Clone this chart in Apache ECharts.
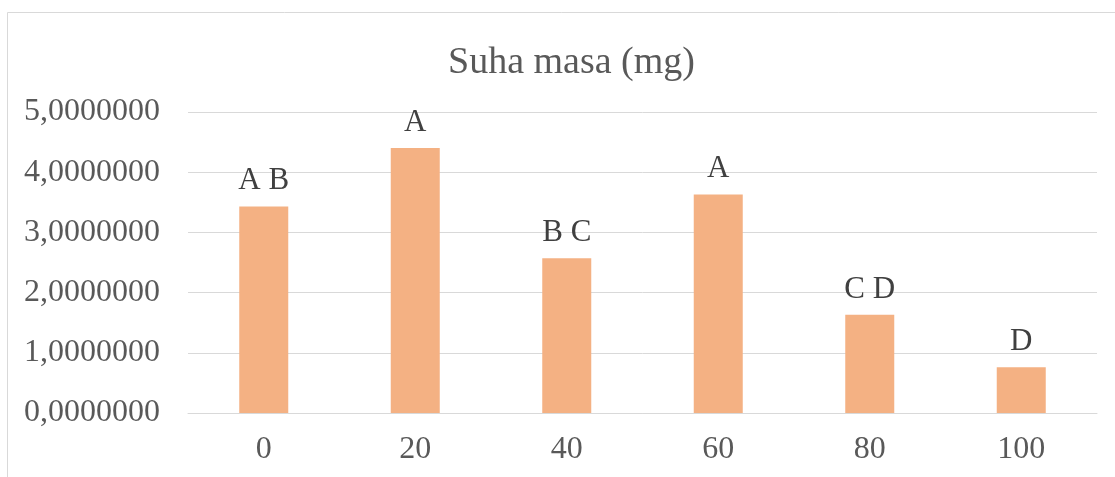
<!DOCTYPE html>
<html>
<head>
<meta charset="utf-8">
<script src="https://cdn.jsdelivr.net/npm/echarts@6/dist/echarts.min.js"></script>
<style>html,body{margin:0;padding:0;background:#fff}#c{width:1115px;height:477px}</style>
</head>
<body>
<div id="c"></div>
<script>
const categories = ['0', '20', '40', '60', '80', '100'];
const values = [3.43, 4.40, 2.57, 3.63, 1.63, 0.76];
const letters = ['A B', 'A', 'B C', 'A', 'C D', 'D'];
const yTicks = [0, 1, 2, 3, 4, 5];

const font = '"Liberation Serif", "Times New Roman", serif';
const chart = echarts.init(document.getElementById('c'));
chart.setOption({
  animation: false,
  backgroundColor: '#fff',
  graphic: [{
    type: 'rect', shape: {x: 7.5, y: 12.5, width: 1120, height: 480},
    style: {fill: 'none', stroke: '#d9d9d9', lineWidth: 1}, silent: true
  }],
  title: {
    text: 'Suha masa (mg)', left: 443, top: 39,
    textStyle: {fontFamily: font, fontSize: 38, fontWeight: 'normal', color: '#595959'}
  },
  grid: {left: 188, right: 18, top: 112, bottom: 64},
  xAxis: {
    type: 'category', data: categories,
    axisLine: {show: true, lineStyle: {color: '#d9d9d9', width: 1}},
    axisTick: {show: false},
    axisLabel: {fontFamily: font, fontSize: 32, color: '#595959', margin: 21}
  },
  yAxis: {
    type: 'value', min: 0, max: 5, interval: 1,
    axisLine: {show: false}, axisTick: {show: false},
    splitLine: {lineStyle: {color: '#d9d9d9', width: 1}},
    axisLabel: {
      fontFamily: font, fontSize: 32, color: '#595959', margin: 28,
      formatter: v => v.toFixed(7).replace('.', ',')
    }
  },
  series: [{
    type: 'bar', data: values, barWidth: 49,
    itemStyle: {color: '#F4B183'},
    label: {
      show: true, position: 'top', distance: 10,
      fontFamily: font, fontSize: 31, color: '#404040',
      formatter: p => letters[p.dataIndex]
    }
  }]
});
</script>
</body>
</html>
